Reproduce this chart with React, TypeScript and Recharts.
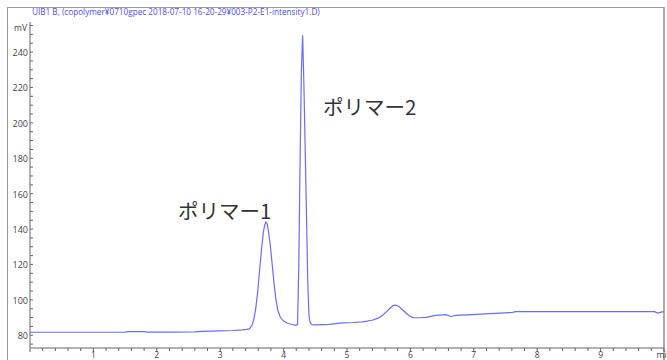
import { LineChart, Line, XAxis, YAxis } from 'recharts'

// chromatogram trace: retention time (min) and detector signal (mV)
const times = [
  0, 0.5, 1.0, 1.5, 1.55, 1.8, 1.85, 2.2, 2.6, 2.7, 3.0, 3.2, 3.35, 3.42,
  3.46, 3.5, 3.53, 3.56, 3.59, 3.62, 3.65, 3.68, 3.7, 3.72, 3.74, 3.76, 3.79,
  3.82, 3.85, 3.88, 3.91, 3.95, 4.0, 4.06, 4.12, 4.19, 4.22, 4.24, 4.26, 4.28,
  4.3, 4.32, 4.34, 4.36, 4.38, 4.4, 4.42, 4.45, 4.5, 4.72, 4.93, 5.1, 5.25,
  5.41, 5.5, 5.56, 5.62, 5.67, 5.72, 5.75, 5.79, 5.83, 5.88, 5.93, 5.98, 6.04,
  6.15, 6.25, 6.4, 6.56, 6.64, 6.72, 6.98, 7.25, 7.61, 7.66, 8.5, 9.85, 9.9,
  9.97, 10.0,
]
const signal = [
  81.7, 81.7, 81.7, 81.8, 82.0, 82.0, 81.8, 81.8, 81.9, 82.2, 82.5, 82.7, 83.0, 83.3,
  83.6, 85.5, 89, 95, 104, 116, 128, 138, 142, 144, 143, 139, 131,
  120, 109, 100, 94, 90, 88, 86.8, 86.2, 85.6, 86, 120, 178, 228,
  249.5, 222, 186, 150, 112, 91, 87, 86, 85.9, 86.2, 87.0, 87.2, 87.6,
  88.6, 89.8, 91.3, 93.2, 95.0, 96.6, 97.0, 96.8, 96.0, 94.3, 92.6, 91.0, 90.0,
  89.9, 90.1, 91.2, 91.6, 90.6, 91.2, 91.7, 92.2, 92.9, 93.3, 93.3, 93.3, 92.5,
  93.2, 93.2,
]

const xLabels = ['1', '2', '3', '4', '5', '6', '7', '8', '9']
const yLabels = [80, 100, 120, 140, 160, 180, 200, 220, 240]
const title = 'UIB1 B, (copolymer¥0710gpec 2018-07-10 16-20-29¥003-P2-E1-intensity1.D)'
const peakNames = ['ポリマー1', 'ポリマー2']

const data = times.map((t, i) => ({ t, v: signal[i] }))
const xTicks = Array.from({ length: 51 }, (_, i) => Math.round(i * 2) / 10)
const yTicks = Array.from({ length: 37 }, (_, i) => 75 + i * 5)

const axisColor = '#666'
const textColor = '#444'

function XTick({ x, y, payload }: any) {
  const v = payload.value as number
  const major = Math.abs(v - Math.round(v)) < 1e-6
  const label = major && v >= 1 && v <= 9 ? xLabels[v - 1] : v === 10 ? 'min' : null
  return (
    <g>
      <line x1={x} x2={x} y1={y} y2={y + (major ? 4 : 3)} stroke={axisColor} />
      {label && (
        <text x={x} y={y + 10} textAnchor="middle" fontSize={8.5} fill={textColor} fontFamily="'Open Sans', sans-serif">
          {label}
        </text>
      )}
    </g>
  )
}

function YTick({ x, y, payload }: any) {
  const v = payload.value as number
  const show = yLabels.includes(v)
  return (
    <g>
      <line x1={x} x2={x + 3} y1={y} y2={y} stroke={axisColor} />
      {show && (
        <text x={x - 2} y={y + 4} textAnchor="end" fontSize={9} fill={textColor} fontFamily="'Open Sans', sans-serif">
          {v}
        </text>
      )}
    </g>
  )
}

export default function App() {
  return (
    <div style={{ position: 'fixed', left: 0, top: 0, width: 667, height: 360, overflow: 'hidden', background: '#fff' }}>
      <div
        style={{
          position: 'absolute', left: 7, top: 7, width: 655, height: 370,
          borderLeft: '1px solid #999', borderTop: '1px solid #999', borderRight: '2px solid #aaa',
        }}
      />
      <LineChart width={667} height={360} data={data} margin={{ top: 22, right: 3, left: 0, bottom: 0 }}>
        <XAxis
          dataKey="t"
          type="number"
          domain={[0, 10]}
          ticks={xTicks}
          interval={0}
          height={12}
          tickSize={0}
          tickMargin={0}
          tick={<XTick />}
          stroke={axisColor}
        />
        <YAxis
          type="number"
          domain={[72.8, 257]}
          ticks={yTicks}
          interval={0}
          width={30}
          tickSize={0}
          tickMargin={0}
          tick={<YTick />}
          stroke={axisColor}
          allowDataOverflow
        />
        <Line dataKey="v" stroke="#6b6bff" strokeWidth={1.2} dot={false} isAnimationActive={false} />
      </LineChart>
      <div style={{ position: 'absolute', left: 32, top: 6, fontSize: 8.2, lineHeight: '12px', color: '#4a4aff', fontFamily: "'Open Sans', sans-serif", whiteSpace: 'nowrap' }}>
        {title}
      </div>
      <div style={{ position: 'absolute', left: 10, width: 17, top: 22, textAlign: 'right', fontSize: 8.5, lineHeight: '12px', color: textColor, fontFamily: "'Open Sans', sans-serif" }}>
        mV
      </div>
      <div style={{ position: 'absolute', left: 178, top: 200, fontSize: 20.5, lineHeight: '20px', color: '#333', fontFamily: "'Noto Sans CJK JP', sans-serif", whiteSpace: 'nowrap' }}>
        {peakNames[0]}
      </div>
      <div style={{ position: 'absolute', left: 323, top: 96, fontSize: 20.5, lineHeight: '20px', color: '#333', fontFamily: "'Noto Sans CJK JP', sans-serif", whiteSpace: 'nowrap' }}>
        {peakNames[1]}
      </div>
    </div>
  )
}
